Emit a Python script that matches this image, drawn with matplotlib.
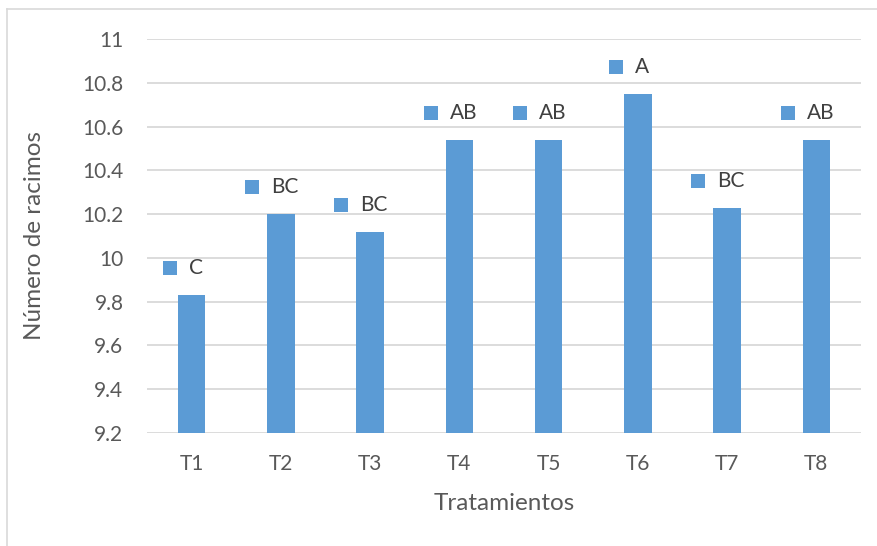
import matplotlib
matplotlib.use("Agg")
import matplotlib.pyplot as plt
from matplotlib.transforms import offset_copy
from matplotlib.lines import Line2D

# Data
treatments = ["T1", "T2", "T3", "T4", "T5", "T6", "T7", "T8"]
racimos = [9.83, 10.20, 10.12, 10.54, 10.54, 10.75, 10.23, 10.54]
groups = ["C", "BC", "BC", "AB", "AB", "A", "BC", "AB"]
y_ticks = [9.2, 9.4, 9.6, 9.8, 10.0, 10.2, 10.4, 10.6, 10.8, 11.0]
y_tick_labels = ["9.2", "9.4", "9.6", "9.8", "10", "10.2", "10.4", "10.6", "10.8", "11"]

BAR = "#5b9bd5"
TXT = "#595959"
GRID = "#d9d9d9"

plt.rcParams["font.family"] = ["Lato", "DejaVu Sans"]

DPI = 100
W, H = 878, 546
L, R, T, B = 147, 861, 39, 433
fig = plt.figure(figsize=(W / DPI, H / DPI), dpi=DPI)
ax = fig.add_axes([L / W, 1 - B / H, (R - L) / W, (B - T) / H])

x = list(range(len(treatments)))
ax.bar(x, racimos, width=0.31, color=BAR, zorder=2)

ax.set_ylim(9.2, 11.0)
ax.set_xlim(-0.5, len(treatments) - 0.5)
ax.set_yticks(y_ticks)
ax.set_yticklabels(y_tick_labels)
ax.set_xticks(x)
ax.set_xticklabels(treatments)
ax.tick_params(axis="both", length=0, labelsize=15, colors=TXT)
ax.tick_params(axis="y", pad=17)
ax.tick_params(axis="x", pad=15)
ax.grid(axis="y", color=GRID, linewidth=1.3, zorder=0)
ax.set_axisbelow(True)
for s in ax.spines.values():
    s.set_visible(False)

ax.set_xlabel("Tratamientos", fontsize=17.5, color=TXT)
ax.xaxis.set_label_coords(0.5, (B - 503) / (B - T))
ax.xaxis.label.set_va("center")
ax.set_ylabel("Número de racimos", fontsize=17.5, color=TXT)
ax.yaxis.set_label_coords((35 - L) / (R - L), 0.5)
ax.yaxis.label.set_va("center")

# Chart border (top and left edges of the chart frame)
fig.add_artist(Line2D([7 / W, 1.0], [1 - 9 / H, 1 - 9 / H], transform=fig.transFigure,
                      color=GRID, linewidth=1.2))
fig.add_artist(Line2D([7 / W, 7 / W], [0.0, 1 - 9 / H], transform=fig.transFigure,
                      color=GRID, linewidth=1.2))

# Data labels with legend key, centred as a group above each bar
fig.canvas.draw()
renderer = fig.canvas.get_renderer()
px = 72.0 / DPI
key = 14      # legend key size in pixels
gap = 12      # space between key and text
rise = 27     # label centre above bar top
shift = -9    # horizontal shift of the label group
for xi, val, g in zip(x, racimos, groups):
    t = ax.annotate(g, (xi, val), xytext=(0, 0), textcoords="offset points",
                    ha="left", va="center", fontsize=15, color="#404040")
    w = t.get_window_extent(renderer).width
    left = shift - (key + gap + w) / 2
    t.xyann = ((left + key + gap) * px, rise * px)
    tr = offset_copy(ax.transData, fig=fig, x=left + key / 2, y=rise, units="dots")
    ax.plot([xi], [val], marker="s", markersize=key * px, color=BAR, transform=tr,
            clip_on=False, linestyle="none", markeredgewidth=0)

fig.savefig("out.png", dpi=DPI)
